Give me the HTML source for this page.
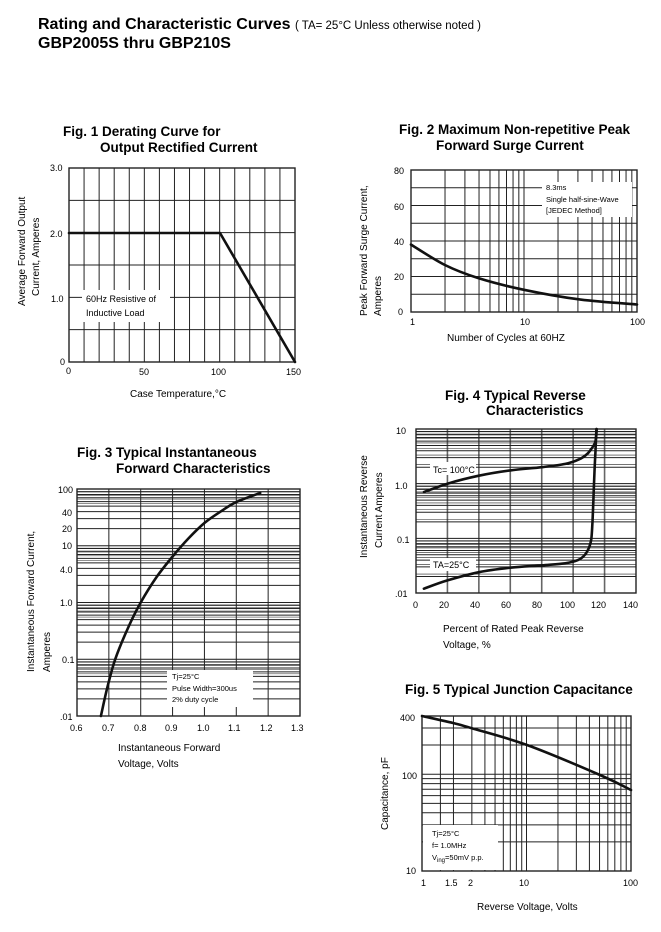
<!DOCTYPE html>
<html><head><meta charset="utf-8"><style>
html,body{margin:0;padding:0;background:#fff;width:661px;height:932px;overflow:hidden}
svg{display:block;font-family:"Liberation Sans",sans-serif}
.t{font-weight:bold;font-size:13.5px}
.s{font-size:10px}
.k{font-size:9px}
.b{font-size:7.5px}
</style></head><body>
<svg id="g" width="661" height="932" viewBox="0 0 661 932" xmlns="http://www.w3.org/2000/svg">
<g id="grid" stroke="#222" stroke-width="1" fill="none"></g>
<g id="boxes" fill="#fff" stroke="none">
<rect x="82" y="290" width="88" height="32"/>
<rect x="542" y="182" width="90" height="35"/>
<rect x="167" y="670" width="86" height="37"/>
<rect x="430" y="462" width="46" height="13"/>
<rect x="430" y="558" width="46" height="13"/>
<rect x="423" y="825" width="75" height="45"/>
</g>
<g id="curves" stroke="#111" stroke-width="2.6" fill="none" stroke-linejoin="round" stroke-linecap="round"></g>
<text x="38" y="29" style="font-weight:bold;font-size:16px">Rating and  Characteristic Curves <tspan style="font-weight:normal;font-size:11.5px">( TA= 25°C Unless otherwise noted )</tspan></text>
<text x="38" y="48" style="font-weight:bold;font-size:16px">GBP2005S  thru  GBP210S</text>
<!-- Fig1 -->
<text class="t" x="63" y="136">Fig. 1 Derating Curve for</text>
<text class="t" x="100" y="152">Output Rectified Current</text>
<text class="k" x="50" y="171">3.0</text><text class="k" x="50" y="237">2.0</text><text class="k" x="51" y="302">1.0</text><text class="k" x="60" y="365">0</text>
<text class="k" x="66" y="374">0</text><text class="k" x="139" y="375">50</text><text class="k" x="211" y="375">100</text><text class="k" x="286" y="375">150</text>
<text class="s" x="130" y="397">Case Temperature,°C</text>
<text class="s" transform="translate(25,306) rotate(-90)">Average Forward Output</text>
<text class="s" transform="translate(39,296) rotate(-90)">Current, Amperes</text>
<text class="k" x="86" y="302">60Hz Resistive of</text><text class="k" x="86" y="316">Inductive Load</text>
<!-- Fig2 -->
<text class="t" x="399" y="134">Fig. 2 Maximum Non-repetitive Peak</text>
<text class="t" x="436" y="150">Forward Surge Current</text>
<text class="k" x="394" y="174">80</text><text class="k" x="394" y="210">60</text><text class="k" x="394" y="245">40</text><text class="k" x="394" y="280">20</text><text class="k" x="398" y="315">0</text>
<text class="k" x="410" y="325">1</text><text class="k" x="520" y="325">10</text><text class="k" x="630" y="325">100</text>
<text class="s" x="447" y="341">Number of Cycles at 60HZ</text>
<text class="s" transform="translate(367,316) rotate(-90)">Peak Forward Surge Current,</text>
<text class="s" transform="translate(381,316) rotate(-90)">Amperes</text>
<text class="b" x="546" y="190">8.3ms</text><text class="b" x="546" y="202">Single half-sine-Wave</text><text class="b" x="546" y="213">[JEDEC Method]</text>
<!-- Fig3 -->
<text class="t" x="77" y="457">Fig. 3 Typical Instantaneous</text>
<text class="t" x="116" y="473">Forward Characteristics</text>
<text class="k" x="58" y="493">100</text><text class="k" x="62" y="516">40</text><text class="k" x="62" y="532">20</text><text class="k" x="62" y="549">10</text><text class="k" x="60" y="573">4.0</text><text class="k" x="60" y="606">1.0</text><text class="k" x="62" y="663">0.1</text><text class="k" x="60" y="720">.01</text>
<text class="k" x="70" y="731">0.6</text><text class="k" x="102" y="731">0.7</text><text class="k" x="134" y="731">0.8</text><text class="k" x="165" y="731">0.9</text><text class="k" x="197" y="731">1.0</text><text class="k" x="228" y="731">1.1</text><text class="k" x="260" y="731">1.2</text><text class="k" x="291" y="731">1.3</text>
<text class="s" x="118" y="751">Instantaneous Forward</text><text class="s" x="118" y="767">Voltage, Volts</text>
<text class="s" transform="translate(34,672) rotate(-90)">Instantaneous Forward Current,</text>
<text class="s" transform="translate(50,672) rotate(-90)">Amperes</text>
<text class="b" x="172" y="679">Tj=25°C</text><text class="b" x="172" y="691">Pulse Width=300us</text><text class="b" x="172" y="702">2% duty cycle</text>
<!-- Fig4 -->
<text class="t" x="445" y="400">Fig. 4 Typical Reverse</text>
<text class="t" x="486" y="415">Characteristics</text>
<text class="k" x="396" y="434">10</text><text class="k" x="395" y="489">1.0</text><text class="k" x="397" y="543">0.1</text><text class="k" x="395" y="597">.01</text>
<text class="k" x="413" y="608">0</text><text class="k" x="439" y="608">20</text><text class="k" x="470" y="608">40</text><text class="k" x="501" y="608">60</text><text class="k" x="532" y="608">80</text><text class="k" x="560" y="608">100</text><text class="k" x="591" y="608">120</text><text class="k" x="623" y="608">140</text>
<text class="s" x="443" y="632">Percent of Rated Peak Reverse</text><text class="s" x="443" y="648">Voltage, %</text>
<text class="s" transform="translate(367,558) rotate(-90)">Instantaneous Reverse</text>
<text class="s" transform="translate(382,548) rotate(-90)">Current  Amperes</text>
<text class="k" x="433" y="473">Tc= 100°C</text><text class="k" x="433" y="568">TA=25°C</text>
<!-- Fig5 -->
<text class="t" x="405" y="694">Fig. 5 Typical Junction Capacitance</text>
<text class="k" x="400" y="721">400</text><text class="k" x="402" y="779">100</text><text class="k" x="406" y="874">10</text>
<text class="k" x="421" y="886">1</text><text class="k" x="445" y="886">1.5</text><text class="k" x="468" y="886">2</text><text class="k" x="519" y="886">10</text><text class="k" x="623" y="886">100</text>
<text class="s" x="477" y="910">Reverse Voltage, Volts</text>
<text class="s" transform="translate(388,830) rotate(-90)">Capacitance, pF</text>
<text class="b" x="432" y="836">Tj=25°C</text><text class="b" x="432" y="848">f= 1.0MHz</text><text class="b" x="432" y="860">V<tspan font-size="6" dy="2">ing</tspan><tspan dy="-2">=50mV p.p.</tspan></text>
</svg>
<script>
var G=document.getElementById('grid'),C=document.getElementById('curves'),NS='http://www.w3.org/2000/svg';
function L(x1,y1,x2,y2,w,c){var e=document.createElementNS(NS,'line');e.setAttribute('x1',x1);e.setAttribute('y1',y1);e.setAttribute('x2',x2);e.setAttribute('y2',y2);if(w)e.setAttribute('stroke-width',w);if(c)e.setAttribute('stroke',c);G.appendChild(e);}
function R(x,y,w,h){var e=document.createElementNS(NS,'rect');e.setAttribute('x',x);e.setAttribute('y',y);e.setAttribute('width',w);e.setAttribute('height',h);e.setAttribute('stroke-width',1.4);G.appendChild(e);}
function P(pts){var e=document.createElementNS(NS,'polyline');e.setAttribute('points',pts.map(function(p){return p[0].toFixed(1)+','+p[1].toFixed(1)}).join(' '));C.appendChild(e);}
function S(p){var d='M'+p[0][0].toFixed(1)+','+p[0][1].toFixed(1);for(var i=0;i<p.length-1;i++){var a=p[i-1]||p[i],b=p[i],c=p[i+1],n=p[i+2]||c;var c1=[b[0]+(c[0]-a[0])/6,b[1]+(c[1]-a[1])/6],c2=[c[0]-(n[0]-b[0])/6,c[1]-(n[1]-b[1])/6];d+=' C'+c1[0].toFixed(1)+','+c1[1].toFixed(1)+' '+c2[0].toFixed(1)+','+c2[1].toFixed(1)+' '+c[0].toFixed(1)+','+c[1].toFixed(1);}var e=document.createElementNS(NS,'path');e.setAttribute('d',d);C.appendChild(e);}
function lg(v){return Math.log(v)/Math.LN10;}
// Fig1
var x0=69,x1=295,y0=168,y1=362;
for(var i=1;i<15;i++)L(x0+(x1-x0)*i/15,y0,x0+(x1-x0)*i/15,y1);
for(i=1;i<6;i++)L(x0,y0+(y1-y0)*i/6,x1,y0+(y1-y0)*i/6);
R(x0,y0,x1-x0,y1-y0);
P([[x0,233],[220,233],[295,362]]);
// Fig2
x0=411;x1=637;y0=170;y1=312;
var dx=(x1-x0)/2;
for(var d=0;d<2;d++)for(var m=2;m<=10;m++)L(x0+dx*(d+lg(m)),y0,x0+dx*(d+lg(m)),y1);
for(i=1;i<8;i++)L(x0,y0+(y1-y0)*i/8,x1,y0+(y1-y0)*i/8);
R(x0,y0,x1-x0,y1-y0);
var lx=[0,0.3,0.6,1,1.5,2],ly=[38,26.5,19,12.5,7,4.2],pts=[];
for(i=0;i<lx.length;i++)pts.push([x0+dx*lx[i],y1-(y1-y0)*ly[i]/80]);S(pts);
// Fig3
x0=77;x1=300;y0=489;y1=716;var dy=(y1-y0)/4;
for(i=1;i<7;i++)L(x0+(x1-x0)*i/7,y0,x0+(x1-x0)*i/7,y1);
for(d=0;d<4;d++)for(m=2;m<=10;m++){var yy=y1-dy*(d+lg(m));L(x0,yy,x1,yy);if(m>=5&&m<10)L(x0,yy-2.5,x1,yy-2.5,0.5);}
R(x0,y0,x1-x0,y1-y0);
var vx=[0.675,0.695,0.72,0.76,0.8,0.85,0.9,0.95,1.0,1.05,1.1,1.175],vy=[-2,-1.5,-1,-0.45,0,0.45,0.81,1.13,1.4,1.6,1.77,1.93];pts=[];
for(i=0;i<vx.length;i++)pts.push([x0+(x1-x0)*(vx[i]-0.6)/0.7,y1-dy*(vy[i]+2)]);S(pts);
// Fig4
x0=416;x1=636;y0=429;y1=593;dy=(y1-y0)/3;
for(i=1;i<7;i++)L(x0+(x1-x0)*i/7,y0,x0+(x1-x0)*i/7,y1,1.6,'#666');
for(d=0;d<3;d++)for(m=2;m<=10;m++){yy=y1-dy*(d+lg(m));L(x0,yy,x1,yy);if(m<10)L(x0,yy-2.5,x1,yy-2.5,0.6);}
R(x0,y0,x1-x0,y1-y0);
function f4(xa,ya){var p=[];for(var k=0;k<xa.length;k++)p.push([x0+(x1-x0)*xa[k]/140,y1-dy*(lg(ya[k])+2)]);S(p);}
f4([5,20,40,60,80,95,104,109,112,113.8,114.6,115],[0.7,1.0,1.4,1.75,2.0,2.3,2.8,3.5,4.5,5.5,7,10]);
f4([5,20,40,60,80,95,103,107.5,110.3,111.6,112.3,112.9,113.5,114.2,114.8],[0.012,0.017,0.024,0.029,0.032,0.035,0.04,0.05,0.07,0.1,0.2,0.5,1.5,4,10]);
// Fig5
x0=422;x1=631;y0=716;y1=871;dx=(x1-x0)/2;var dd=96.8;
for(d=0;d<2;d++)for(m=2;m<=10;m++)L(x0+dx*(d+lg(m)),y0,x0+dx*(d+lg(m)),y1);
L(x0+dx*lg(1.5),y0,x0+dx*lg(1.5),y1);
for(d=0;d<2;d++)for(m=2;m<=10;m++){yy=y1-dd*(d+lg(m));if(yy>=y0)L(x0,yy,x1,yy);}
R(x0,y0,x1-x0,y1-y0);
S([[422,716],[453,723],[471,728],[527,745],[600,775],[631,790]]);
</script>
</body></html>
